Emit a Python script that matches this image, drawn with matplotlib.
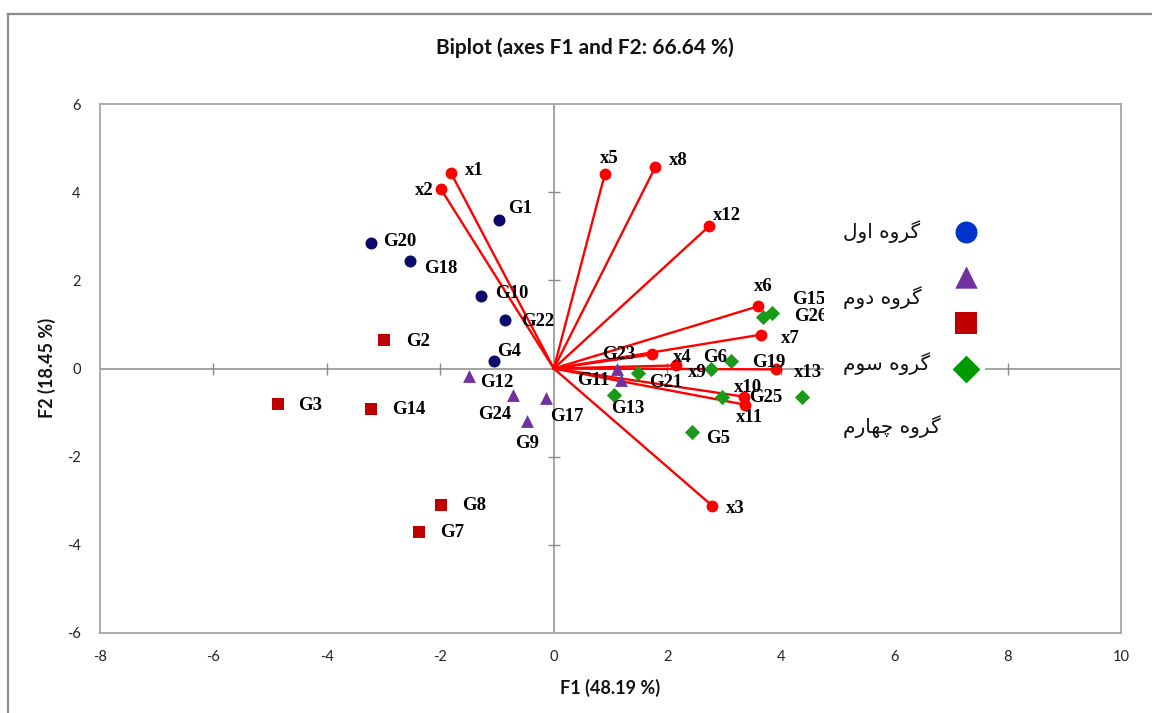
import matplotlib
matplotlib.use("Agg")
import matplotlib.pyplot as plt
from matplotlib.lines import Line2D
from matplotlib.patches import Rectangle

# ---------------- data ----------------
var_names = ['x1', 'x2', 'x3', 'x4', 'x5', 'x6', 'x7', 'x8', 'x9', 'x10', 'x11', 'x12', 'x13']
var_f1 = [-1.81, -1.99, 2.79, 1.74, 0.90, 3.60, 3.66, 1.79, 2.16, 3.36, 3.37, 2.74, 3.92]
var_f2 = [4.43, 4.07, -3.11, 0.32, 4.41, 1.41, 0.77, 4.57, 0.07, -0.64, -0.82, 3.23, -0.02]

g1_names = ['G1', 'G4', 'G10', 'G18', 'G20', 'G22']
g1_f1 = [-0.97, -1.05, -1.28, -2.53, -3.23, -0.86]
g1_f2 = [3.36, 0.16, 1.64, 2.43, 2.84, 1.11]

g2_names = ['G9', 'G11', 'G12', 'G17', 'G23', 'G24']
g2_f1 = [-0.47, 1.18, -1.49, -0.14, 1.12, -0.72]
g2_f2 = [-1.18, -0.25, -0.18, -0.66, -0.02, -0.61]

g3_names = ['G2', 'G3', 'G7', 'G8', 'G14']
g3_f1 = [-2.99, -4.87, -2.37, -1.99, -3.22]
g3_f2 = [0.64, -0.80, -3.70, -3.09, -0.91]

g4_names = ['G5', 'G6', 'G13', 'G15', 'G16', 'G19', 'G21', 'G25', 'G26']
g4_f1 = [2.43, 3.13, 1.07, 3.85, 4.38, 2.78, 1.49, 2.97, 3.69]
g4_f2 = [-1.45, 0.18, -0.59, 1.25, -0.64, 0.00, -0.11, -0.64, 1.16]

group_labels = ['گروه اول', 'گروه دوم', 'گروه سوم', 'گروه چهارم']

x_ticks = [-8, -6, -4, -2, 0, 2, 4, 6, 8, 10]
y_ticks = [-6, -4, -2, 0, 2, 4, 6]

title = 'Biplot (axes F1 and F2: 66.64 %)'
xlabel = 'F1 (48.19 %)'
ylabel = 'F2 (18.45 %)'

# label offsets (pixels) and alignment
label_pos = {
    'x1': (14, 3, 'left'), 'x2': (-7, -1, 'right'), 'x3': (14, -3, 'left'),
    'x4': (20, -3, 'left'), 'x5': (-5, 16, 'left'), 'x6': (-4, 20, 'left'),
    'x7': (20, -4, 'left'), 'x8': (14, 7, 'left'), 'x9': (12, -7, 'left'),
    'x10': (-10, 9, 'left'), 'x11': (-9, -13, 'left'), 'x12': (4, 11, 'left'),
    'x13': (18, -3, 'left'),
    'G1': (9, 12, 'left'), 'G4': (3, 10, 'left'), 'G10': (14, 3, 'left'),
    'G18': (14, -7, 'left'), 'G20': (13, 2, 'left'), 'G22': (16, -2, 'left'),
    'G9': (-12, -23, 'left'), 'G11': (-11, -1, 'right'), 'G12': (11, -6, 'left'),
    'G17': (4, -19, 'left'), 'G23': (-15, 15, 'left'), 'G24': (-2, -19, 'right'),
    'G2': (22, -1, 'left'), 'G3': (21, -2, 'left'), 'G7': (21, -1, 'left'),
    'G8': (21, -1, 'left'), 'G14': (21, -1, 'left'),
    'G5': (15, -6, 'left'), 'G6': (-4, 3, 'right'), 'G13': (-3, -14, 'left'),
    'G15': (20, 14, 'left'), 'G19': (41, 6, 'left'), 'G21': (11, -9, 'left'),
    'G25': (27, -1, 'left'), 'G26': (31, 1, 'left'),
}

# ---------------- minimal Arabic-script shaping ----------------
FORMS = {
    'ا': ('\uFE8D', '\uFE8E', None, None),
    'د': ('\uFEA9', '\uFEAA', None, None),
    'ر': ('\uFEAD', '\uFEAE', None, None),
    'و': ('\uFEED', '\uFEEE', None, None),
    'ل': ('\uFEDD', '\uFEDE', '\uFEDF', '\uFEE0'),
    'م': ('\uFEE1', '\uFEE2', '\uFEE3', '\uFEE4'),
    'ه': ('\uFEE9', '\uFEEA', '\uFEEB', '\uFEEC'),
    'س': ('\uFEB1', '\uFEB2', '\uFEB3', '\uFEB4'),
    'گ': ('\uFB92', '\uFB93', '\uFB94', '\uFB95'),
    'چ': ('\uFB7A', '\uFB7B', '\uFB7C', '\uFB7D'),
}


def shape(s):
    out = []
    for i, c in enumerate(s):
        if c not in FORMS:
            out.append(c)
            continue
        iso, fin, ini, med = FORMS[c]
        prev = s[i - 1] if i > 0 else None
        nxt = s[i + 1] if i + 1 < len(s) else None
        jp = prev in FORMS and FORMS[prev][2] is not None
        jn = nxt in FORMS and ini is not None
        if jp and jn:
            out.append(med)
        elif jp:
            out.append(fin)
        elif jn:
            out.append(ini)
        else:
            out.append(iso)
    return ''.join(reversed(out))


# ---------------- figure ----------------
W, H = 1152, 713
fig = plt.figure(figsize=(W / 100, H / 100), dpi=100)
fig.patch.set_facecolor('white')

# outer chart border
bx, by = 8 / W, 1 - 14 / H
fig.add_artist(Line2D([bx, bx], [0, by], transform=fig.transFigure, color='#8c8c8c', lw=1.6))
fig.add_artist(Line2D([bx, 1], [by, by], transform=fig.transFigure, color='#8c8c8c', lw=1.6))

L, R, T, B = 100, 1121, 104, 633
ax = fig.add_axes([L / W, 1 - B / H, (R - L) / W, (B - T) / H])
ax.set_xlim(-8, 10)
ax.set_ylim(-6, 6)
for sp in ax.spines.values():
    sp.set_color('#a6a6a6')
    sp.set_linewidth(1.3)

tick_font = 'Lato'
ax.set_xticks(x_ticks)
ax.set_yticks(y_ticks)
ax.set_xticklabels([str(t) for t in x_ticks], fontsize=10.5, fontfamily=tick_font, color='#222222')
ax.set_yticklabels([str(t) for t in y_ticks], fontsize=10.5, fontfamily=tick_font, color='#222222')
ax.tick_params(axis='both', length=0)
ax.tick_params(axis='x', pad=12)
ax.tick_params(axis='y', pad=14)

# central axes with cross ticks
ax.axhline(0, color='#8a8a8a', lw=1.1, zorder=1)
ax.axvline(0, color='#8a8a8a', lw=1.1, zorder=1)
inner_x = [t for t in x_ticks if t not in (0, x_ticks[0], x_ticks[-1])]
inner_y = [t for t in y_ticks if t not in (0, y_ticks[0], y_ticks[-1])]
ax.plot(inner_x, [0] * len(inner_x), ls='none', marker='|',
        ms=8, mew=1.0, color='#8a8a8a', zorder=1)
ax.plot([0] * len(inner_y), inner_y, ls='none', marker='_',
        ms=8, mew=1.0, color='#8a8a8a', zorder=1)

# variable vectors
for vx, vy in zip(var_f1, var_f2):
    ax.plot([0, vx], [0, vy], color='#ff0000', lw=1.7, zorder=2)
ax.plot(var_f1, var_f2, ls='none', marker='o', ms=7.5, color='#ff0000', zorder=3)

# observations
ax.scatter(g1_f1, g1_f2, s=75, marker='o', color='#0b0b6e', zorder=4, linewidths=0)
ax.scatter(g2_f1, g2_f2, s=85, marker='^', color='#7030a0', zorder=4, linewidths=0)
ax.scatter(g3_f1, g3_f2, s=75, marker='s', color='#c00000', zorder=4, linewidths=0)
ax.scatter(g4_f1, g4_f2, s=60, marker='D', color='#1a9a1a', zorder=4, linewidths=0)

lab_font = dict(fontfamily='Liberation Serif', fontweight='bold', fontsize=13.5, color='#000000')
all_names = var_names + g1_names + g2_names + g3_names + g4_names
all_x = var_f1 + g1_f1 + g2_f1 + g3_f1 + g4_f1
all_y = var_f2 + g1_f2 + g2_f2 + g3_f2 + g4_f2
for n, px, py in zip(all_names, all_x, all_y):
    if n not in label_pos:
        continue
    dx, dy, ha = label_pos[n]
    ax.annotate(n, (px, py), xytext=(dx, dy), textcoords='offset pixels',
                ha=ha, va='center', zorder=5, **lab_font)

# legend box (white, covers underlying content)
def axfrac(px, py):
    return ((px - L) / (R - L), (B - py) / (B - T))

lx0, ly0 = axfrac(824, 445)
lx1, ly1 = axfrac(985, 205)
ax.add_patch(Rectangle((lx0, ly0), lx1 - lx0, ly1 - ly0, transform=ax.transAxes,
                       facecolor='white', edgecolor='none', zorder=6))

leg_marker_y = [232, 277, 323, 369]
leg_text_y = [232, 298, 364, 427]
leg_markers = ['o', '^', 's', 'D']
leg_colors = ['#0033cc', '#7030a0', '#c00000', '#009900']
leg_sizes = [250, 260, 250, 200]
for lbl, my, tyy, mk, col, sz in zip(group_labels, leg_marker_y, leg_text_y, leg_markers, leg_colors, leg_sizes):
    mx, myf = axfrac(966, my)
    ax.scatter([mx], [myf], s=sz, marker=mk, color=col, transform=ax.transAxes,
               zorder=7, linewidths=0, clip_on=False)
    tx, tyf = axfrac(843, tyy)
    ax.text(tx, tyf, shape(lbl), transform=ax.transAxes, ha='left', va='center',
            fontsize=14.5, fontfamily='DejaVu Sans', color='#111111', zorder=7)

# titles
fig.text(585 / W, 1 - 48 / H, title, ha='center', va='center', fontsize=15,
         fontweight='bold', fontfamily='Lato', color='#111111')
fig.text(610 / W, 1 - 688 / H, xlabel, ha='center', va='center', fontsize=13,
         fontweight='bold', fontfamily='Lato', color='#111111')
fig.text(47 / W, 1 - 368 / H, ylabel, ha='center', va='center', rotation=90, fontsize=13,
         fontweight='bold', fontfamily='Lato', color='#111111')

fig.savefig('out.png', dpi=100)
